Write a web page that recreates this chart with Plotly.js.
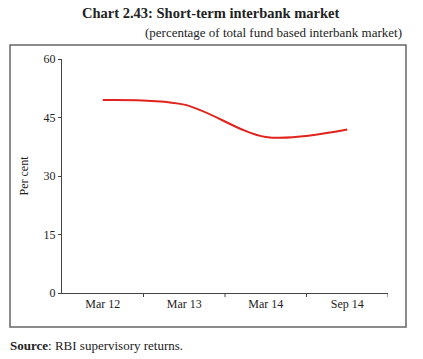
<!DOCTYPE html>
<html>
<head>
<meta charset="utf-8">
<script src="https://cdn.plot.ly/plotly-3.0.1.min.js"></script>
<style>html,body{margin:0;padding:0;background:#fff;}#chart{width:423px;height:359px;}</style>
</head>
<body>
<div id="chart"></div>
<script>
var categories = ["Mar 12", "Mar 13", "Mar 14", "Sep 14"];
var shareValues = [49.5, 48.3, 40.0, 41.9];
var yTicks = [0, 15, 30, 45, 60];

var serif = "Liberation Serif, DejaVu Serif, serif";

var trace = {
  x: [0, 1, 2, 3],
  y: shareValues,
  type: "scatter",
  mode: "lines",
  line: {color: "#e0231c", width: 2, shape: "spline", smoothing: 0.9},
  hoverinfo: "skip"
};

var L = 62, R = 388, T = 59, B = 293;
var W = 423, H = 359;
var pw = R - L, ph = B - T;
function px(x){ return (x - L) / pw; }
function py(y){ return (B - y) / ph; }

var layout = {
  width: W, height: H,
  margin: {l: L, r: W - R, t: T, b: H - B},
  paper_bgcolor: "#fff",
  plot_bgcolor: "#fff",
  showlegend: false,
  font: {family: serif, size: 12, color: "#222"},
  xaxis: {
    range: [-0.5, 3.5],
    tickmode: "array",
    tickvals: [0, 1, 2, 3],
    ticktext: categories,
    showgrid: false,
    zeroline: false,
    showline: true,
    linecolor: "#444",
    linewidth: 1,
    ticks: "",
    tickfont: {family: serif, size: 12, color: "#222"},
    fixedrange: true
  },
  yaxis: {
    range: [0, 60],
    tickmode: "array",
    tickvals: yTicks,
    ticktext: yTicks.map(String),
    showgrid: false,
    zeroline: false,
    showline: true,
    linecolor: "#444",
    linewidth: 1,
    ticks: "outside",
    ticklen: 3,
    tickcolor: "#444",
    tickfont: {family: serif, size: 12, color: "#222"},
    title: {text: "Per cent", font: {family: serif, size: 12, color: "#222"}, standoff: 12},
    fixedrange: true
  },
  shapes: [
    {type: "rect", xref: "paper", yref: "paper",
     x0: px(10), x1: px(406), y0: py(327), y1: py(45),
     line: {color: "#666", width: 1.5}, fillcolor: "rgba(0,0,0,0)", layer: "below"}
  ].concat([0.5, 1.5, 2.5, 3.5].map(function(v){
    return {type: "line", xref: "x", yref: "paper", x0: v, x1: v, y0: 0, y1: -4 / ph,
            line: {color: "#444", width: 1}};
  })),
  annotations: [
    {text: "<b>Chart 2.43: Short-term interbank market</b>", xref: "paper", yref: "paper",
     x: px(211), y: py(13), xanchor: "center", yanchor: "middle", showarrow: false,
     font: {family: serif, size: 14.5, color: "#222"}},
    {text: "(percentage of total fund based interbank market)", xref: "paper", yref: "paper",
     x: px(404), y: py(33), xanchor: "right", yanchor: "middle", showarrow: false,
     font: {family: serif, size: 13, color: "#222"}},
    {text: "<b>Source</b>: RBI supervisory returns.", xref: "paper", yref: "paper",
     x: px(8), y: py(345), xanchor: "left", yanchor: "middle", showarrow: false,
     font: {family: serif, size: 13, color: "#222"}}
  ]
};

Plotly.newPlot("chart", [trace], layout, {displayModeBar: false, staticPlot: true});
</script>
</body>
</html>
